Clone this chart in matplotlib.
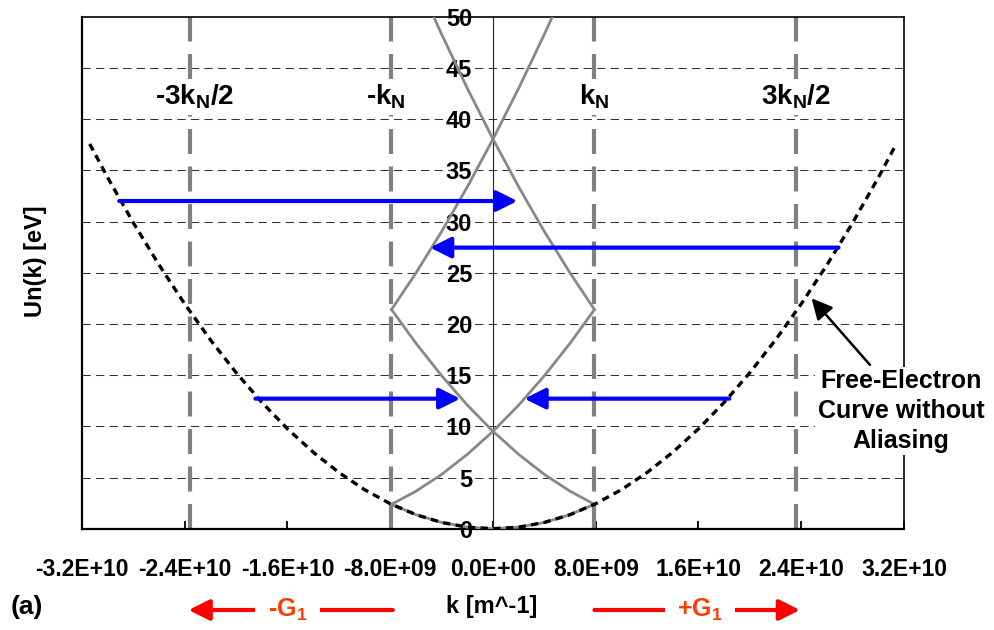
import matplotlib
matplotlib.use('Agg')
import matplotlib.pyplot as plt
from matplotlib.transforms import blended_transform_factory

plt.rcParams['font.family'] = ['Liberation Sans', 'DejaVu Sans']
plt.rcParams['font.weight'] = 'bold'
plt.rcParams['mathtext.fontset'] = 'custom'
plt.rcParams['mathtext.rm'] = 'Liberation Sans:bold'
plt.rcParams['mathtext.bf'] = 'Liberation Sans:bold'
plt.rcParams['mathtext.it'] = 'Liberation Sans:bold'

# ---------------- data ----------------
# free-electron curve (dotted)
k_free = [-3.14e10, -3.0e10, -2.8e10, -2.6e10, -2.4e10, -2.2e10, -2.0e10, -1.8e10,
          -1.6e10, -1.4e10, -1.2e10, -1.0e10, -8.0e9, -6.0e9, -4.0e9, -2.0e9, 0.0,
          2.0e9, 4.0e9, 6.0e9, 8.0e9, 1.0e10, 1.2e10, 1.4e10, 1.6e10, 1.8e10,
          2.0e10, 2.2e10, 2.4e10, 2.6e10, 2.8e10, 3.0e10, 3.14e10]
E_free = [37.57, 34.29, 29.87, 25.76, 21.95, 18.44, 15.24, 12.34,
          9.75, 7.47, 5.49, 3.81, 2.44, 1.37, 0.61, 0.15, 0.0,
          0.15, 0.61, 1.37, 2.44, 3.81, 5.49, 7.47, 9.75, 12.34,
          15.24, 18.44, 21.95, 25.76, 29.87, 34.29, 37.57]

# reduced-zone bands (gray)
k_band = [-7.9e9, -6.0e9, -4.0e9, -2.0e9, 0.0, 2.0e9, 4.0e9, 6.0e9, 7.9e9]
E_band1 = [2.38, 1.37, 0.61, 0.15, 0.0, 0.15, 0.61, 1.37, 2.38]
E_band2_rise = [2.38, 3.66, 5.30, 7.26, 9.51, 12.07, 14.94, 18.11, 21.40]
E_band2_fall = [21.40, 18.11, 14.94, 12.07, 9.51, 7.26, 5.30, 3.66, 2.38]

k_band3_rise = [-7.9e9, -6.0e9, -4.0e9, -2.0e9, 0.0, 2.0e9, 4.0e9, 5.0e9]
E_band3_rise = [21.40, 24.97, 29.02, 33.38, 38.05, 43.01, 48.29, 51.04]
k_band3_fall = [-5.0e9, -4.0e9, -2.0e9, 0.0, 2.0e9, 4.0e9, 6.0e9, 7.9e9]
E_band3_fall = [51.04, 48.29, 43.01, 38.05, 33.38, 29.02, 24.97, 21.40]

# boundary lines and labels
k_bound = [-2.36e10, -7.95e9, 7.9e9, 2.36e10]
bound_labels = ['-3k$_\\mathbf{N}$/2', '-k$_\\mathbf{N}$', 'k$_\\mathbf{N}$', '3k$_\\mathbf{N}$/2']
k_bound_label = [-2.325e10, -8.35e9, 7.9e9, 2.36e10]
E_bound_label = 41.4

# blue aliasing arrows
arrow_E = [32.0, 27.45, 12.7, 12.7]
arrow_from = [-2.91e10, 2.69e10, -1.85e10, 1.84e10]
arrow_to = [1.9e9, -4.9e9, -2.55e9, 2.45e9]

# axis ticks
x_ticks = [-3.2e10, -2.4e10, -1.6e10, -8.0e9, 0.0, 8.0e9, 1.6e10, 2.4e10, 3.2e10]
x_tick_labels = ['-3.2E+10', '-2.4E+10', '-1.6E+10', '-8.0E+09', '0.0E+00',
                 '8.0E+09', '1.6E+10', '2.4E+10', '3.2E+10']
y_ticks = [0, 5, 10, 15, 20, 25, 30, 35, 40, 45, 50]

# ---------------- figure ----------------
fig = plt.figure(figsize=(9.95, 6.3), dpi=100)
ax = fig.add_axes([82 / 995, 1 - 528.7 / 630, 822 / 995, 512 / 630])
ax.set_xlim(-3.2e10, 3.2e10)
ax.set_ylim(0, 50)

# horizontal grid
for yv in y_ticks[1:-1]:
    ax.axhline(yv, color='#333333', lw=0.75, ls=(0, (8, 5)), zorder=1)

# boundary lines
for kb in k_bound:
    ax.axvline(kb, color='#808080', lw=3, ls=(0, (6, 3)), zorder=2)

# gray bands
gray = '#888888'
for kk, ee in [(k_band, E_band1), (k_band, E_band2_rise), (k_band, E_band2_fall),
               (k_band3_rise, E_band3_rise), (k_band3_fall, E_band3_fall)]:
    ax.plot(kk, ee, color=gray, lw=2.0, zorder=3, solid_joinstyle='round')

# free electron curve
ax.plot(k_free, E_free, color='black', lw=2.4, ls=(0, (2.2, 1.6)), zorder=4)

# blue arrows
for e, a, b in zip(arrow_E, arrow_from, arrow_to):
    ax.annotate('', xy=(b, e), xytext=(a, e),
                arrowprops=dict(arrowstyle='-|>,head_length=0.9,head_width=0.45',
                                color='#0000FF', lw=3, mutation_scale=14,
                                shrinkA=0, shrinkB=0), zorder=5)

# boundary labels
for kl, lab in zip(k_bound_label, bound_labels):
    ax.text(kl, E_bound_label, lab, ha='center', va='baseline', fontsize=20,
            fontweight='bold', zorder=6,
            bbox=dict(boxstyle='square,pad=0.15', fc='white', ec='none'))

# annotation
ax.annotate('', xy=(2.48e10, 22.5), xytext=(2.935e10, 16.0),
            arrowprops=dict(arrowstyle='-|>,head_length=0.9,head_width=0.45',
                            color='black', lw=1.8, mutation_scale=14,
                            shrinkA=0, shrinkB=0), zorder=6)
ax.text(3.177e10, 11.5, 'Free-Electron\nCurve without\nAliasing', ha='center',
        va='center', fontsize=18, fontweight='bold', linespacing=1.3, zorder=7,
        clip_on=False, bbox=dict(boxstyle='square,pad=0.1', fc='white', ec='none'))

# spines
ax.spines['left'].set_position(('data', 0))
ax.spines['left'].set_linewidth(0.8)
ax.spines['left'].set_color('#222222')
ax.spines['bottom'].set_linewidth(1.6)
ax.spines['top'].set_linewidth(1.2)
ax.spines['right'].set_linewidth(1.2)
ax.axvline(-3.2e10, color='black', lw=1.6, clip_on=False, zorder=8)

ax.set_xticks(x_ticks)
ax.set_xticklabels(x_tick_labels, fontsize=16.5, fontweight='bold')
ax.set_yticks(y_ticks)
ax.set_yticklabels([str(v) for v in y_ticks], fontsize=17, fontweight='bold')
ax.tick_params(axis='x', direction='in', length=6, width=1.3, pad=21)
ax.tick_params(axis='y', length=0, pad=15)

ax.set_ylabel('Un(k) [eV]', fontsize=17, fontweight='bold')
ax.yaxis.set_label_coords((47 - 82) / 822, (528.7 - 261) / 512)

# bottom annotations
trans = blended_transform_factory(ax.transData, fig.transFigure)
yb = 1 - 610 / 630
ax.annotate('', xy=(-2.37e10, yb), xytext=(-7.8e9, yb), xycoords=trans, textcoords=trans,
            arrowprops=dict(arrowstyle='-|>,head_length=0.9,head_width=0.45',
                            color='#FF0000', lw=3, mutation_scale=14,
                            shrinkA=0, shrinkB=0), annotation_clip=False)
ax.annotate('', xy=(2.39e10, yb), xytext=(7.9e9, yb), xycoords=trans, textcoords=trans,
            arrowprops=dict(arrowstyle='-|>,head_length=0.9,head_width=0.45',
                            color='#FF0000', lw=3, mutation_scale=14,
                            shrinkA=0, shrinkB=0), annotation_clip=False)
ax.text(-1.6e10, yb, '-G$_\\mathbf{1}$', transform=trans, ha='center', va='center',
        fontsize=18, fontweight='bold', color='#FF3C00', clip_on=False, zorder=9,
        bbox=dict(boxstyle='square,pad=0.5', fc='white', ec='none'))
ax.text(1.61e10, yb, '+G$_\\mathbf{1}$', transform=trans, ha='center', va='center',
        fontsize=18, fontweight='bold', color='#FF3C00', clip_on=False, zorder=9,
        bbox=dict(boxstyle='square,pad=0.5', fc='white', ec='none'))

fig.text(26.5 / 995, 1 - 607 / 630, '(a)', ha='center', va='center', fontsize=19,
         fontweight='bold')
fig.text(492 / 995, 1 - 607 / 630, 'k [m^-1]', ha='center', va='center', fontsize=17,
         fontweight='bold')

fig.savefig('out.png', dpi=100)
